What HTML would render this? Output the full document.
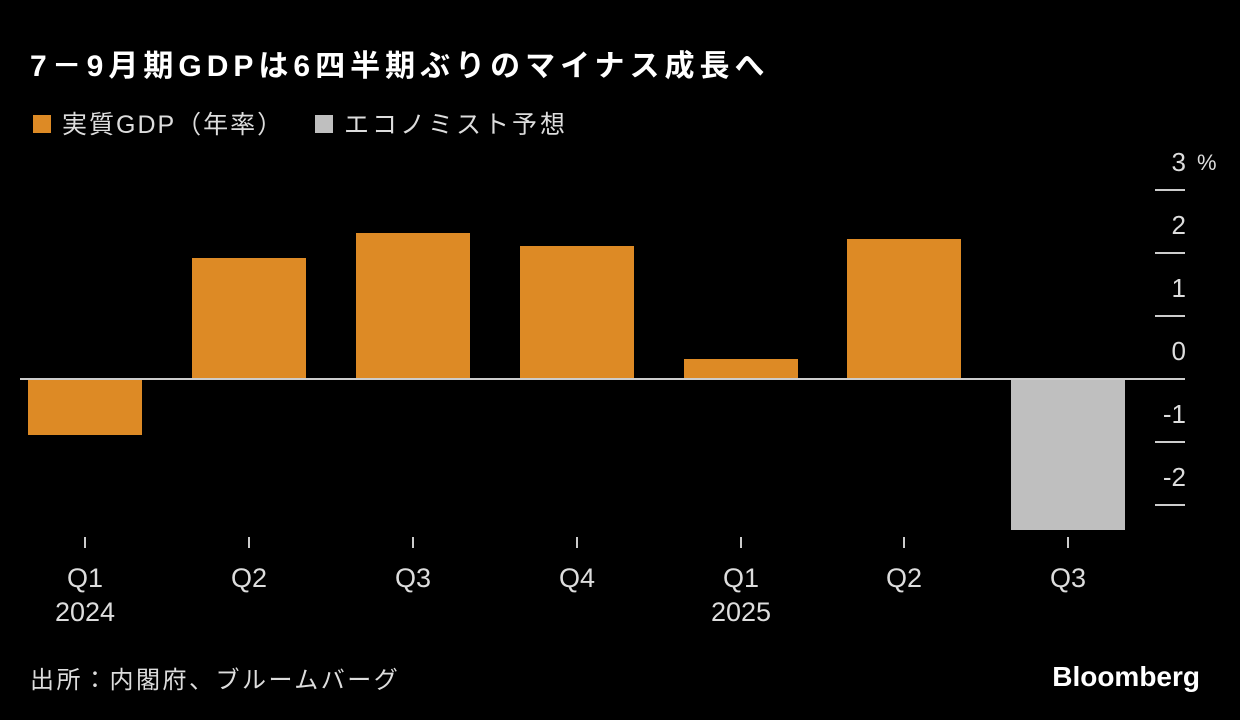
<!DOCTYPE html>
<html><head><meta charset="utf-8"><style>
body{margin:0;background:#000;}
svg{display:block}
text{font-family:"Liberation Sans","Noto Sans CJK JP",sans-serif;}
</style></head><body>
<svg width="1240" height="720" viewBox="0 0 1240 720">
<rect width="1240" height="720" fill="#000"/>
<text x="30" y="76" fill="#fff" font-size="30" font-weight="bold" letter-spacing="5">7－9月期GDPは6四半期ぶりのマイナス成長へ</text>
<rect x="33" y="115" width="18" height="18" fill="#dd8a25"/>
<text x="62" y="133" fill="#ddd" font-size="25" letter-spacing="2">実質GDP（年率）</text>
<rect x="315" y="115" width="18" height="18" fill="#bfbfbf"/>
<text x="344" y="133" fill="#ddd" font-size="25" letter-spacing="3">エコノミスト予想</text>
<g fill="#dd8a25">
<rect x="28" y="379" width="114" height="56"/>
<rect x="192" y="258" width="114" height="121"/>
<rect x="356" y="233" width="114" height="146"/>
<rect x="520" y="246" width="114" height="133"/>
<rect x="684" y="359" width="114" height="20"/>
<rect x="847" y="239" width="114" height="140"/>
</g>
<rect x="1011" y="379" width="114" height="151" fill="#bfbfbf"/>
<line x1="20" y1="379" x2="1185" y2="379" stroke="#ccc" stroke-width="2"/>
<g stroke="#ccc" stroke-width="2">
<line x1="1155" y1="190" x2="1185" y2="190"/>
<line x1="1155" y1="253" x2="1185" y2="253"/>
<line x1="1155" y1="316" x2="1185" y2="316"/>
<line x1="1155" y1="442" x2="1185" y2="442"/>
<line x1="1155" y1="505" x2="1185" y2="505"/>
<line x1="85" y1="537" x2="85" y2="548"/>
<line x1="249" y1="537" x2="249" y2="548"/>
<line x1="413" y1="537" x2="413" y2="548"/>
<line x1="577" y1="537" x2="577" y2="548"/>
<line x1="741" y1="537" x2="741" y2="548"/>
<line x1="904" y1="537" x2="904" y2="548"/>
<line x1="1068" y1="537" x2="1068" y2="548"/>
</g>
<g fill="#ddd" font-size="26" text-anchor="end">
<text x="1186" y="171">3</text>
<text x="1186" y="234">2</text>
<text x="1186" y="297">1</text>
<text x="1186" y="360">0</text>
<text x="1186" y="423">-1</text>
<text x="1186" y="486">-2</text>
</g>
<text x="1197" y="170" fill="#ddd" font-size="22">%</text>
<g fill="#ddd" font-size="27" text-anchor="middle">
<text x="85" y="587">Q1</text><text x="85" y="621">2024</text>
<text x="249" y="587">Q2</text>
<text x="413" y="587">Q3</text>
<text x="577" y="587">Q4</text>
<text x="741" y="587">Q1</text><text x="741" y="621">2025</text>
<text x="904" y="587">Q2</text>
<text x="1068" y="587">Q3</text>
</g>
<text x="30" y="688" fill="#ddd" font-size="24" letter-spacing="2.5">出所：内閣府、ブルームバーグ</text>
<text x="1200" y="686" fill="#fff" font-size="28" font-weight="bold" text-anchor="end">Bloomberg</text>
</svg>
</body></html>
